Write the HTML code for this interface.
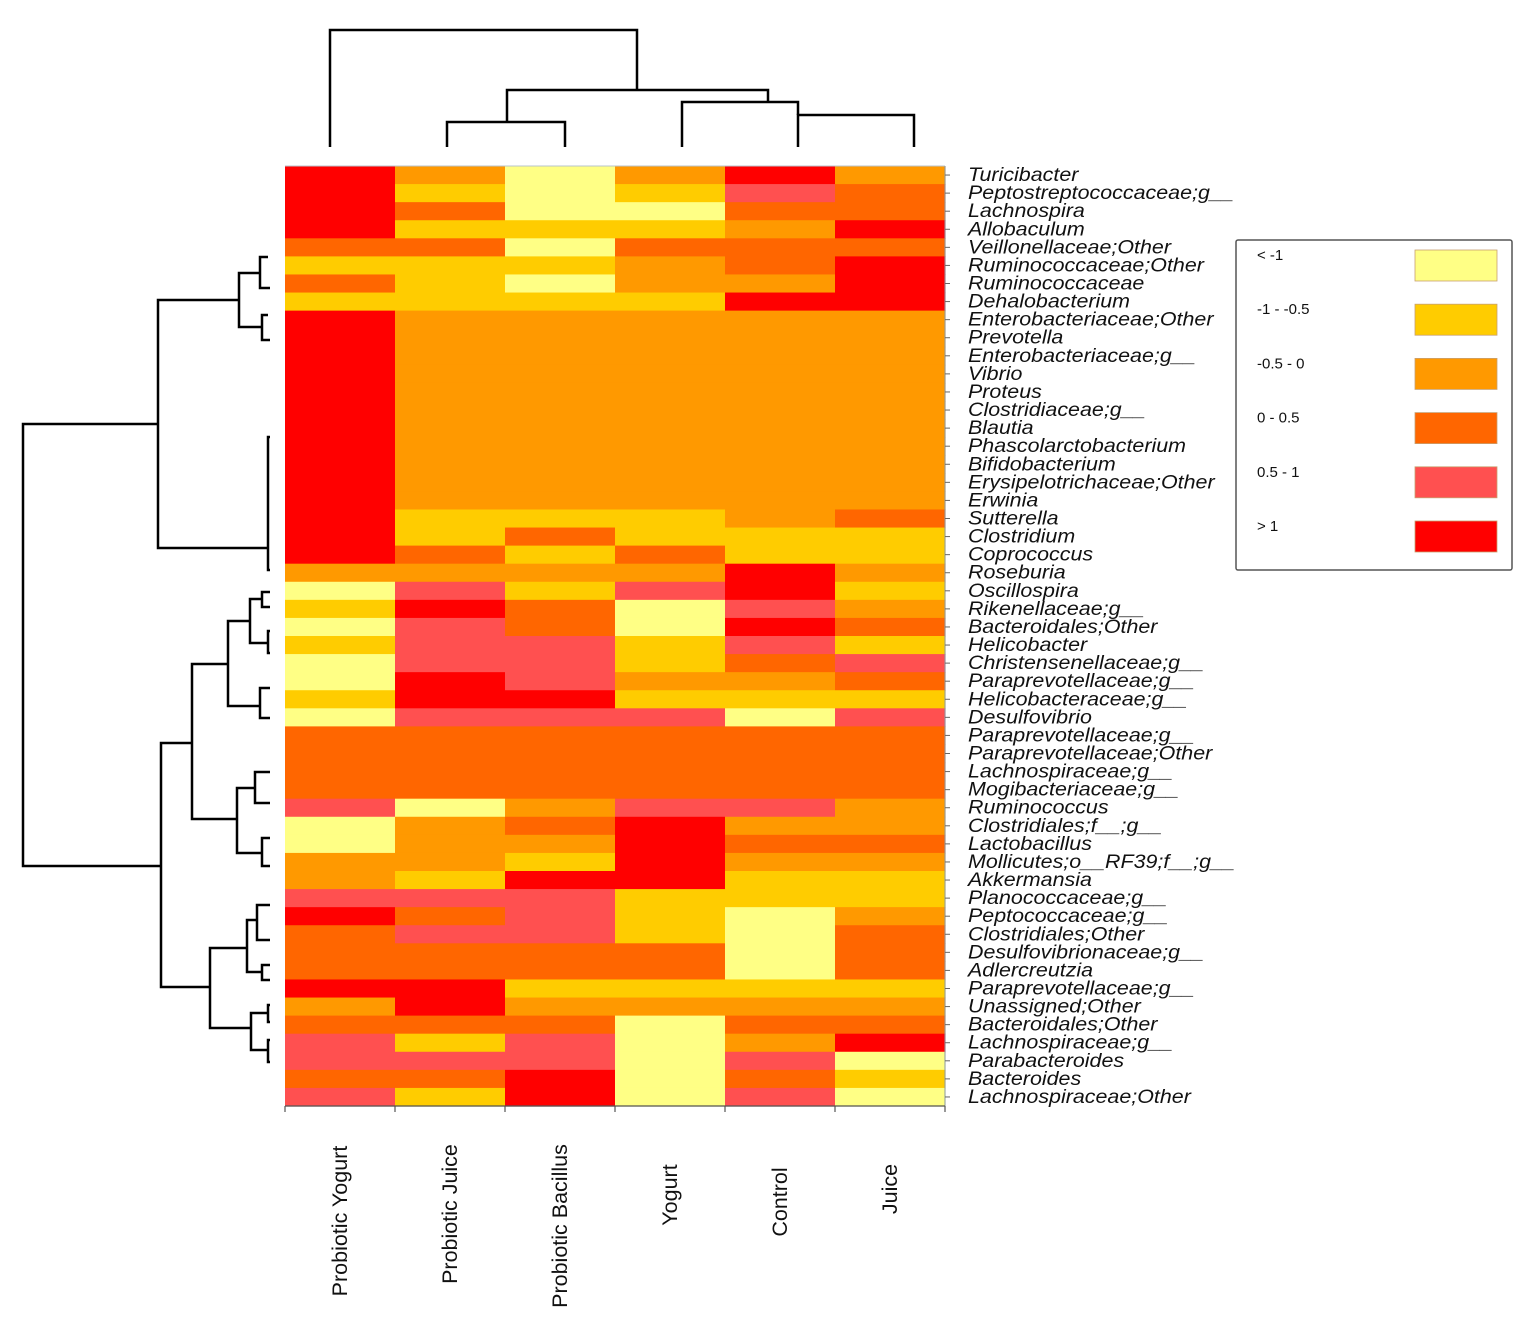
<!DOCTYPE html>
<html><head><meta charset="utf-8"><style>
html,body{margin:0;padding:0;background:#fff}
svg{display:block}
text{font-family:"Liberation Sans",sans-serif;fill:#111}
.rl{font-style:italic;font-size:19.5px}
.cl{font-size:21.5px}
.lg{font-size:15px}
</style></head><body>
<svg id="chart" width="1535" height="1336" viewBox="0 0 1535 1336" xmlns="http://www.w3.org/2000/svg">
<g id="dendro-top" stroke="#000" stroke-width="2.5" fill="none"></g>
<g id="dendro-left" stroke="#000" stroke-width="2.5" fill="none"></g>
<g id="cells"></g>
<g id="axes"></g>
<g id="rowlabels" transform="translate(968 0) scale(1.1 1) translate(-968 0)"></g>
<g id="collabels"></g>
<g id="legend">
<rect x="1236" y="240" width="276" height="330" fill="#fff" stroke="#555" stroke-width="1.5" rx="2"/>
</g>
</svg>
<script>
const rowNames = ["Turicibacter","Peptostreptococcaceae;g__","Lachnospira","Allobaculum","Veillonellaceae;Other","Ruminococcaceae;Other","Ruminococcaceae","Dehalobacterium","Enterobacteriaceae;Other","Prevotella","Enterobacteriaceae;g__","Vibrio","Proteus","Clostridiaceae;g__","Blautia","Phascolarctobacterium","Bifidobacterium","Erysipelotrichaceae;Other","Erwinia","Sutterella","Clostridium","Coprococcus","Roseburia","Oscillospira","Rikenellaceae;g__","Bacteroidales;Other","Helicobacter","Christensenellaceae;g__","Paraprevotellaceae;g__","Helicobacteraceae;g__","Desulfovibrio","Paraprevotellaceae;g__","Paraprevotellaceae;Other","Lachnospiraceae;g__","Mogibacteriaceae;g__","Ruminococcus","Clostridiales;f__;g__","Lactobacillus","Mollicutes;o__RF39;f__;g__","Akkermansia","Planococcaceae;g__","Peptococcaceae;g__","Clostridiales;Other","Desulfovibrionaceae;g__","Adlercreutzia","Paraprevotellaceae;g__","Unassigned;Other","Bacteroidales;Other","Lachnospiraceae;g__","Parabacteroides","Bacteroides","Lachnospiraceae;Other"];
const colNames = ["Probiotic Yogurt","Probiotic Juice","Probiotic Bacillus","Yogurt","Control","Juice"];
const binLabels = ["< -1","-1 - -0.5","-0.5 - 0","0 - 0.5","0.5 - 1","> 1"];
const binEdges = [-1,-0.5,0,0.5,1];
const binColors = ["#FFFF85","#FFCC00","#FF9900","#FF6600","#FF5050","#FF0000"];
const valsProbioticYogurt = [1.5,1.5,1.5,1.5,0.25,-0.75,0.25,-0.75,1.5,1.5,1.5,1.5,1.5,1.5,1.5,1.5,1.5,1.5,1.5,1.5,1.5,1.5,-0.25,-1.5,-0.75,-1.5,-0.75,-1.5,-1.5,-0.75,-1.5,0.25,0.25,0.25,0.25,0.75,-1.5,-1.5,-0.25,-0.25,0.75,1.5,0.25,0.25,0.25,1.5,-0.25,0.25,0.75,0.75,0.25,0.75];
const valsProbioticJuice = [-0.25,-0.75,0.25,-0.75,0.25,-0.75,-0.75,-0.75,-0.25,-0.25,-0.25,-0.25,-0.25,-0.25,-0.25,-0.25,-0.25,-0.25,-0.25,-0.75,-0.75,0.25,-0.25,0.75,1.5,0.75,0.75,0.75,1.5,1.5,0.75,0.25,0.25,0.25,0.25,-1.5,-0.25,-0.25,-0.25,-0.75,0.75,0.25,0.75,0.25,0.25,1.5,1.5,0.25,-0.75,0.75,0.25,-0.75];
const valsProbioticBacillus = [-1.5,-1.5,-1.5,-0.75,-1.5,-0.75,-1.5,-0.75,-0.25,-0.25,-0.25,-0.25,-0.25,-0.25,-0.25,-0.25,-0.25,-0.25,-0.25,-0.75,0.25,-0.75,-0.25,-0.75,0.25,0.25,0.75,0.75,0.75,1.5,0.75,0.25,0.25,0.25,0.25,-0.25,0.25,-0.25,-0.75,1.5,0.75,0.75,0.75,0.25,0.25,-0.75,-0.25,0.25,0.75,0.75,1.5,1.5];
const valsYogurt = [-0.25,-0.75,-1.5,-0.75,0.25,-0.25,-0.25,-0.75,-0.25,-0.25,-0.25,-0.25,-0.25,-0.25,-0.25,-0.25,-0.25,-0.25,-0.25,-0.75,-0.75,0.25,-0.25,0.75,-1.5,-1.5,-0.75,-0.75,-0.25,-0.75,0.75,0.25,0.25,0.25,0.25,0.75,1.5,1.5,1.5,1.5,-0.75,-0.75,-0.75,0.25,0.25,-0.75,-0.25,-1.5,-1.5,-1.5,-1.5,-1.5];
const valsControl = [1.5,0.75,0.25,-0.25,0.25,0.25,-0.25,1.5,-0.25,-0.25,-0.25,-0.25,-0.25,-0.25,-0.25,-0.25,-0.25,-0.25,-0.25,-0.25,-0.75,-0.75,1.5,1.5,0.75,1.5,0.75,0.25,-0.25,-0.75,-1.5,0.25,0.25,0.25,0.25,0.75,-0.25,0.25,-0.25,-0.75,-0.75,-1.5,-1.5,-1.5,-1.5,-0.75,-0.25,0.25,-0.25,0.75,0.25,0.75];
const valsJuice = [-0.25,0.25,0.25,1.5,0.25,1.5,1.5,1.5,-0.25,-0.25,-0.25,-0.25,-0.25,-0.25,-0.25,-0.25,-0.25,-0.25,-0.25,0.25,-0.75,-0.75,-0.25,-0.75,-0.25,0.25,-0.75,0.75,0.25,-0.75,0.75,0.25,0.25,0.25,0.25,-0.25,-0.25,0.25,-0.25,-0.75,-0.75,-0.25,0.25,0.25,0.25,-0.75,-0.25,0.25,1.5,-1.5,-0.75,-1.5];
const series = [valsProbioticYogurt,valsProbioticJuice,valsProbioticBacillus,valsYogurt,valsControl,valsJuice];
const colLabelY = [1221,1214,1226,1195,1202,1189];

const NS="http://www.w3.org/2000/svg";
const L=285,R=945,T=166,B=1106;
const cw=(R-L)/colNames.length, rh=(B-T)/rowNames.length;
const xScale=i=>L+i*cw, yScale=j=>T+j*rh;
function bin(v){let k=0;while(k<binEdges.length&&v>binEdges[k])k++;return k;}
function mk(tag,attrs,parent){const e=document.createElementNS(NS,tag);for(const k in attrs)e.setAttribute(k,attrs[k]);parent.appendChild(e);return e;}

const cells=document.getElementById('cells');
series.forEach((col,i)=>col.forEach((v,j)=>{
  const r=mk('rect',{x:xScale(i),y:yScale(j),width:cw+0.6,height:rh+0.6,fill:binColors[bin(v)]},cells);
  
  
}));

const axes=document.getElementById('axes');
mk('line',{x1:L,y1:T,x2:R,y2:T,stroke:'#b8c4cc','stroke-width':1},axes);
mk('line',{x1:R,y1:T,x2:R,y2:B,stroke:'#8a9aa8','stroke-width':1},axes);
mk('line',{x1:L,y1:B,x2:R,y2:B,stroke:'#555','stroke-width':1.2},axes);
rowNames.forEach((n,j)=>{mk('line',{x1:R,y1:yScale(j+0.5),x2:R+5,y2:yScale(j+0.5),stroke:'#666','stroke-width':1},axes);});
for(let i=0;i<=colNames.length;i++)mk('line',{x1:xScale(i),y1:B,x2:xScale(i),y2:B+6,stroke:'#555','stroke-width':1.2},axes);

const rl=document.getElementById('rowlabels');
rowNames.forEach((n,j)=>{
  const t=mk('text',{x:968,y:yScale(j+0.5)+6,class:'rl'},rl);t.textContent=n;
  
  
});
const cl=document.getElementById('collabels');
colNames.forEach((n,i)=>{
  const cx=xScale(i+0.5)+7, cy=colLabelY[i];
  const t=mk('text',{x:cx,y:cy,class:'cl','text-anchor':'middle',transform:`rotate(-90 ${cx} ${cy})`},cl);t.textContent=n;
  
  
});

const lg=document.getElementById('legend');
binLabels.forEach((b,k)=>{
  const y=248+k*54.2;
  const t=mk('text',{x:1257,y:y+12,class:'lg'},lg);t.textContent=b;
  
  
  const r=mk('rect',{x:1415,y:y+2,width:82,height:31,fill:binColors[k],stroke:'#c8a070','stroke-width':0.8},lg);
  
  
});

const dt=document.getElementById('dendro-top');
function p(g,d){mk('path',{d:d},g);}
p(dt,'M330 147V30H637V90');
p(dt,'M507 122V90H768V102');
p(dt,'M447 147V122H565V147');
p(dt,'M682 147V102H798V115');
p(dt,'M798 147V115H914V147');
const dl=document.getElementById('dendro-left');
function U(x,y1,y2,xe1,xe2){p(dl,`M${xe1} ${y1}H${x}V${y2}H${xe2}`);}
U(23,424,866,158,161);
U(158,300,548,239,268);
U(239,273,327,260,262);
U(260,257,288,268,270);
U(262,315,340,268,270);
U(268,437,570,270,270);
U(161,743,987,192,210);
U(192,664,819,228,237);
U(228,621,706,250,260);
U(250,599,643,262,268);
U(262,592,607,270,270);
U(268,631,653,270,270);
U(260,688,718,270,270);
U(237,788,853,255,262);
U(255,772,803,270,270);
U(262,838,866,270,270);
U(210,948,1028,247,251);
U(247,920,972,257,262);
U(257,905,940,270,270);
U(262,965,980,270,270);
U(251,1013,1050,268,268);
U(268,1005,1022,270,270);
U(268,1040,1062,270,270);
</script>
</body></html>
